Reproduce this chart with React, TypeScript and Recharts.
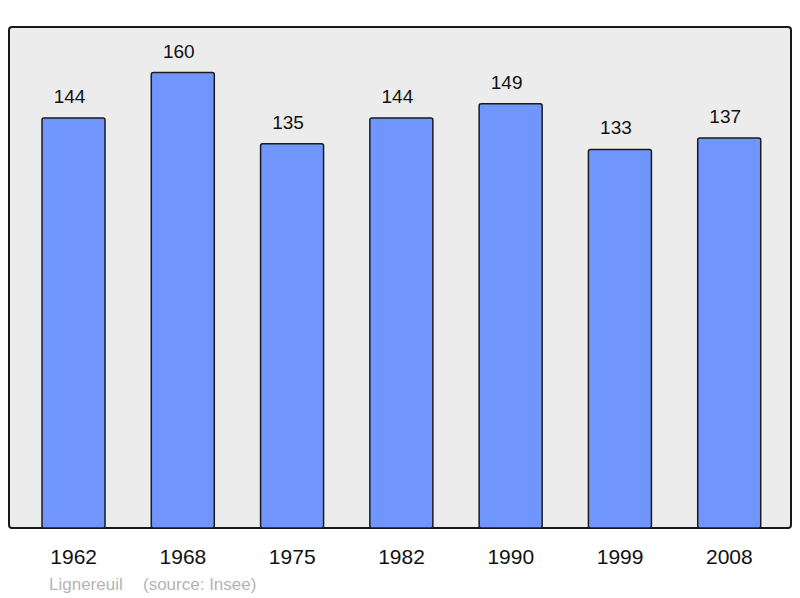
import React from "react";
import { BarChart, Bar, XAxis, YAxis, LabelList } from "recharts";

const years = ["1962", "1968", "1975", "1982", "1990", "1999", "2008"];
const population = [144, 160, 135, 144, 149, 133, 137];
const footerName = "Lignereuil";
const footerSource = "(source: Insee)";

const data = years.map((year, i) => ({ year, value: population[i] }));

const font = "'Liberation Sans', Arial, sans-serif";

// value above each bar, nudged a little left like the original
function ValueLabel(props: any) {
  const { x, y, width, value } = props;
  return (
    <text x={x + width / 2 - 4} y={y - 15} textAnchor="middle" fontSize={19} fill="#111" fontFamily={font}>
      {value}
    </text>
  );
}

export default function App() {
  return (
    <div style={{ position: "absolute", left: 0, top: 0, width: 800, height: 598, background: "#fff", fontFamily: font }}>
      <div
        style={{
          position: "absolute",
          left: 8,
          top: 26,
          width: 784,
          height: 503,
          boxSizing: "border-box",
          border: "2px solid #1a1a1a",
          borderRadius: 4,
          background: "#ececec",
        }}
      />
      <div style={{ position: "absolute", left: 0, top: 0 }}>
        <BarChart width={800} height={598} data={data} margin={{ top: 27, right: 9, left: 9, bottom: 0 }}>
          <XAxis
            dataKey="year"
            height={70}
            axisLine={false}
            tickLine={false}
            tickSize={0}
            tickMargin={21}
            padding={{ left: 10, right: 7 }}
            tick={{ fontSize: 21, fill: "#111", fontFamily: font }}
          />
          <YAxis hide domain={[0, 176]} />
          <Bar dataKey="value" fill="#7096fe" stroke="#1a1a1a" strokeWidth={1.5} radius={2} barSize={63} isAnimationActive={false}>
            <LabelList dataKey="value" content={ValueLabel} />
          </Bar>
        </BarChart>
      </div>
      <svg width={800} height={598} style={{ position: "absolute", left: 0, top: 0, pointerEvents: "none" }}>
        <text x={49} y={590} fontSize={17} fill="#b4b4b4" fontFamily={font}>{footerName}</text>
        <text x={143} y={590} fontSize={17} fill="#b4b4b4" fontFamily={font}>{footerSource}</text>
      </svg>
    </div>
  );
}
